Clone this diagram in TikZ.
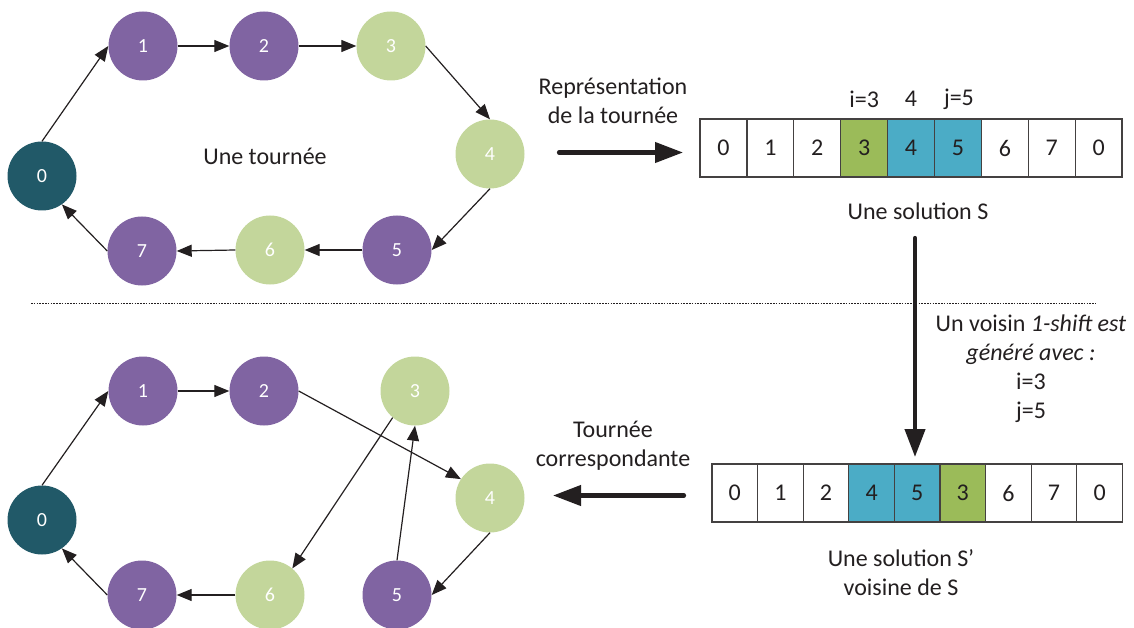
\documentclass[tikz,border=0pt]{standalone}
\usepackage{fontspec}
\setmainfont{Carlito}
\usetikzlibrary{arrows.meta}
\definecolor{cpurple}{HTML}{8064A2}
\definecolor{clgreen}{HTML}{C3D69B}
\definecolor{cteal}{HTML}{215968}
\definecolor{cgreen}{HTML}{9BBB59}
\definecolor{cblue}{HTML}{4BACC6}
\definecolor{cline}{HTML}{231F20}
\begin{document}
\begin{tikzpicture}[x=1pt,y=-1pt,
  city/.style={circle, minimum size=69pt, inner sep=0pt, text=white, font=\fontsize{20}{24}\selectfont},
  pv/.style={city, fill=cpurple},
  gv/.style={city, fill=clgreen},
  tv/.style={city, fill=cteal},
  edge/.style={-{Triangle[length=15pt,width=12pt]}, line width=1.2pt, draw=cline},
  big/.style={-{Triangle[length=28pt,width=20pt]}, line width=4.2pt, draw=cline, line cap=round},
  cell/.style={draw=cline!85, line width=1.3pt, minimum height=58pt, inner sep=0pt, text=cline, font=\fontsize{24}{28}\selectfont},
  lbl/.style={font=\fontsize{24}{29}\selectfont, align=center, inner sep=0pt, text=cline}
]
\useasboundingbox (0,0) rectangle (1134,628);

% ---------- top graph ----------
\node[tv] (A0) at (42,176) {0};
\node[pv] (A1) at (143,46) {1};
\node[pv] (A2) at (264,46) {2};
\node[gv] (A3) at (391,46) {3};
\node[gv] (A4) at (490,154) {4};
\node[pv] (A5) at (397,250) {5};
\node[gv] (A6) at (270,250) {6};
\node[pv] (A7) at (142,251) {7};
\draw[edge] (A0.north) -- (A1.west);
\draw[edge] (A1.east) -- (A2.west);
\draw[edge] (A2.east) -- (A3.west);
\draw[edge] (A3.east) -- (A4.north);
\draw[edge] (A4.south) -- (A5.east);
\draw[edge] (A5.west) -- (A6.east);
\draw[edge] (A6.west) -- (A7.east);
\draw[edge] (A7.west) -- (A0.-55);
\node[lbl] (tour) at (265,156) {Une tournée};

% ---------- top array ----------
\foreach \v [count=\i from 0] in {0,1,2,3,4,5,6,7,0}{
  \ifnum\i=3 \def\cc{cgreen}\else\ifnum\i=4 \def\cc{cblue}\else\ifnum\i=5 \def\cc{cblue}\else\def\cc{white}\fi\fi\fi
  \node[cell, fill=\cc, minimum width=46.9pt] (T\i) at ({700+46.9*(\i+0.5)},148) {\v};
}
\node[lbl] (li) at (T3.north |- 0,99) {i=3};
\node[lbl] (lk) at (T4.north |- 0,99) {4};
\node[lbl] (lj) at ([xshift=1pt]T5.north |- 0,99) {j=5};
\node[lbl] (solS) at (918,211) {Une solution S};

\node[lbl] (rep) at (613,101) {Représentation\\de la tournée};
\coordinate (r1) at (559,152.5);
\coordinate (r2) at (683,152.5);
\draw[big] (r1) -- (r2);

% ---------- separator ----------
\coordinate (s1) at (31,303);
\coordinate (s2) at (1096,303);
\draw[dash pattern=on 1.6pt off 1.2pt, line width=0.9pt, draw=cline] (s1) -- (s2);

% ---------- vertical arrow ----------
\coordinate (v1) at (915,238);
\coordinate (v2) at (915,457);
\draw[big] (v1) -- (v2);
\node[lbl] (vois) at (1031,369) {Un voisin \textit{1-shift est}\\\textit{généré avec :}\\i=3\\j=5};

% ---------- bottom array ----------
\foreach \v [count=\i from 0] in {0,1,2,4,5,3,6,7,0}{
  \ifnum\i=3 \def\cc{cblue}\else\ifnum\i=4 \def\cc{cblue}\else\ifnum\i=5 \def\cc{cgreen}\else\def\cc{white}\fi\fi\fi
  \node[cell, fill=\cc, minimum width=45.6pt] (U\i) at ({712+45.6*(\i+0.5)},493) {\v};
}
\node[lbl] (solS2) at (901,573) {Une solution S’\\voisine de S};

\node[lbl] (corr) at (613,446) {Tournée\\correspondante};
\coordinate (c1) at (684,495.5);
\coordinate (c2) at (553,495.5);
\draw[big] (c1) -- (c2);

% ---------- bottom graph ----------
\node[tv] (B0) at (42,520) {0};
\node[pv] (B1) at (143,391) {1};
\node[pv] (B2) at (264,391) {2};
\node[gv] (B3) at (415,391) {3};
\node[gv] (B4) at (490,498) {4};
\node[pv] (B5) at (397,595) {5};
\node[gv] (B6) at (270,595) {6};
\node[pv] (B7) at (142,595) {7};
\draw[edge] (B0.north) -- (B1.west);
\draw[edge] (B1.east) -- (B2.west);
\draw[edge] (B2.east) -- (B4.147);
\draw[edge] (B4.south) -- (B5.east);
\draw[edge] (B5.north) -- (B3.south);
\draw[edge] (B3.-130) -- (B6.50);
\draw[edge] (B6.west) -- (B7.east);
\draw[edge] (B7.west) -- (B0.-55);
\end{tikzpicture}
\end{document}
